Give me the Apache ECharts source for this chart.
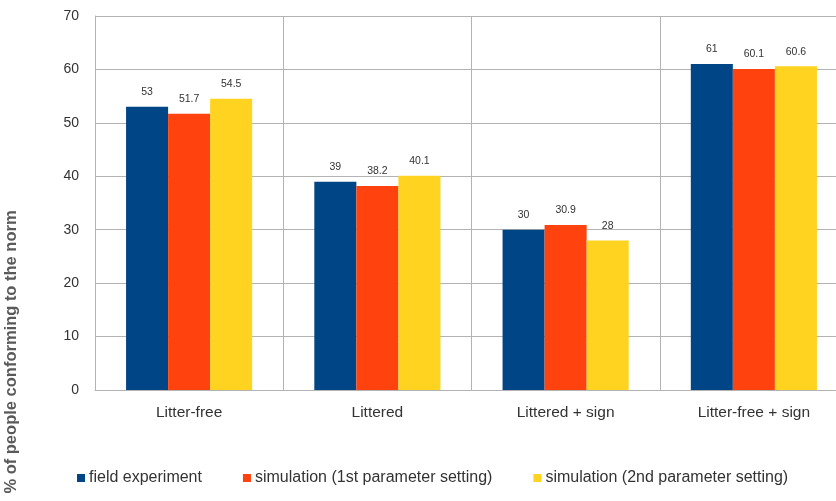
<!DOCTYPE html>
<html><head><meta charset="utf-8">
<script src="https://cdn.jsdelivr.net/npm/echarts@6/dist/echarts.min.js"></script>
<style>html,body{margin:0;padding:0;background:#fff;overflow:hidden;width:836px;height:501px}#c{width:848px;height:501px}</style>
</head><body><div id="c"></div>
<script>
var categories = ['Litter-free', 'Littered', 'Littered + sign', 'Litter-free + sign'];
var seriesNames = ['field experiment', 'simulation (1st parameter setting)', 'simulation (2nd parameter setting)'];
var fieldExperiment = [53, 39, 30, 61];
var simulation1 = [51.7, 38.2, 30.9, 60.1];
var simulation2 = [54.5, 40.1, 28, 60.6];
var yTicks = [0, 10, 20, 30, 40, 50, 60, 70];
var yTitle = '% of people conforming to the norm';
var colors = ['#004586', '#ff420e', '#ffd320'];
var FONT = '"Liberation Sans", sans-serif';

var chart = echarts.init(document.getElementById('c'));
function mk(name, data, color) {
  return {
    name: name, type: 'bar', data: data, barGap: '0%', barCategoryGap: '33%',
    itemStyle: { color: color },
    label: { show: true, position: 'top', distance: 9, fontSize: 10.5, color: '#333', fontFamily: FONT },
    emphasis: { disabled: true }
  };
}
chart.setOption({
  animation: false,
  textStyle: { fontFamily: FONT },
  grid: { left: 95, right: 0, top: 16, bottom: 111, containLabel: false },
  legend: {
    top: 465, left: 72, itemWidth: 8, itemHeight: 8, itemGap: 41, icon: 'rect',
    textStyle: { fontSize: 16, color: '#333', fontFamily: FONT, padding: [0, 0, 0, -1] },
    data: seriesNames
  },
  xAxis: {
    type: 'category', data: categories,
    axisLine: { lineStyle: { color: '#b3b3b3' } },
    axisTick: { show: false },
    axisLabel: { fontSize: 15.5, color: '#333', margin: 15, fontFamily: FONT },
    splitLine: { show: true, lineStyle: { color: '#b3b3b3' } }
  },
  yAxis: {
    type: 'value', min: yTicks[0], max: yTicks[yTicks.length - 1], interval: 10,
    axisLine: { show: true, lineStyle: { color: '#b3b3b3' } },
    axisTick: { show: false },
    axisLabel: { fontSize: 14, color: '#333', margin: 16, fontFamily: FONT },
    splitLine: { lineStyle: { color: '#b3b3b3' } }
  },
  graphic: [{
    type: 'text', x: 11, y: 352, rotation: Math.PI / 2,
    style: { text: yTitle, fill: '#595959', font: 'bold 16.5px ' + FONT, textAlign: 'center', textVerticalAlign: 'middle' }
  }],
  series: [
    mk(seriesNames[0], fieldExperiment, colors[0]),
    mk(seriesNames[1], simulation1, colors[1]),
    mk(seriesNames[2], simulation2, colors[2])
  ]
});
</script></body></html>
